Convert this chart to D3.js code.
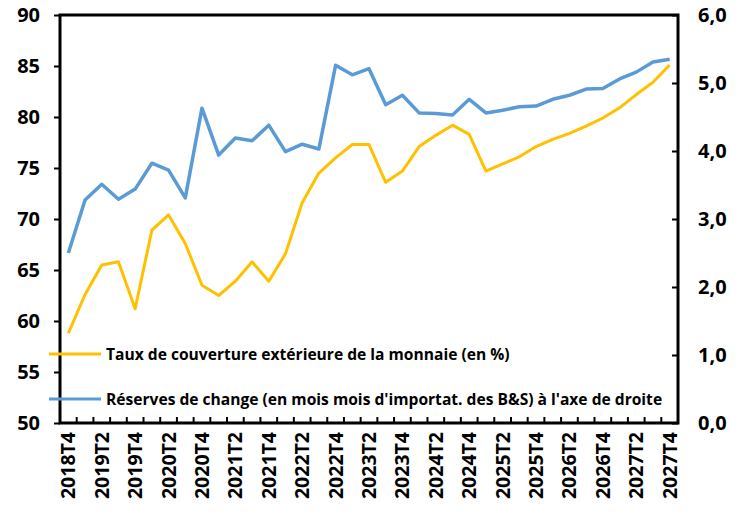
<!DOCTYPE html>
<html>
<head>
<meta charset="utf-8">
<script src="https://cdn.jsdelivr.net/npm/d3@7"></script>
<style>
  body { margin: 0; background: #fff; }
  svg text { font-family: "Open Sans", "Noto Sans", sans-serif; font-weight: bold; fill: #000; }
</style>
</head>
<body>
<script>
const quarters = [];
for (let y = 2018; y <= 2027; y++) {
  for (let q = 1; q <= 4; q++) {
    if (y === 2018 && q < 4) continue;
    quarters.push(y + "T" + q);
  }
}

// taux de couverture (axe gauche, %)
const couverture = [58.8, 62.6, 65.5, 65.8, 61.2, 68.9, 70.4, 67.6, 63.5, 62.5,
  63.9, 65.8, 63.9, 66.6, 71.6, 74.5, 76.0, 77.3, 77.3, 73.6,
  74.7, 77.1, 78.2, 79.2, 78.3, 74.7, 75.4, 76.1, 77.1, 77.8,
  78.4, 79.1, 79.9, 80.9, 82.2, 83.4, 85.1];

// réserves de change (axe droit, mois d'importations)
const reserves = [2.50, 3.28, 3.51, 3.29, 3.44, 3.82, 3.72, 3.31, 4.63, 3.94,
  4.19, 4.15, 4.38, 3.99, 4.10, 4.03, 5.26, 5.12, 5.21, 4.68,
  4.82, 4.56, 4.55, 4.53, 4.76, 4.56, 4.60, 4.65, 4.66, 4.76,
  4.82, 4.91, 4.92, 5.06, 5.16, 5.31, 5.35];

const leftTicks = [50, 55, 60, 65, 70, 75, 80, 85, 90];
const rightTicks = [0, 1, 2, 3, 4, 5, 6];

const W = 747, H = 516;
const m = { left: 60, top: 15, right: 678, bottom: 423 };

const svg = d3.select("body").append("svg")
  .attr("width", W).attr("height", H);

const x = d3.scaleBand().domain(quarters).range([m.left, m.right]);
const yL = d3.scaleLinear().domain([50, 90]).range([m.bottom, m.top]);
const yR = d3.scaleLinear().domain([0, 6]).range([m.bottom, m.top]);
const cx = (d) => x(d) + x.bandwidth() / 2;

// frame
svg.append("rect")
  .attr("x", m.left).attr("y", m.top)
  .attr("width", m.right - m.left).attr("height", m.bottom - m.top)
  .attr("fill", "none").attr("stroke", "#000").attr("stroke-width", 3);

// left axis
const axL = svg.append("g")
  .attr("transform", "translate(" + m.left + ",0)")
  .call(d3.axisLeft(yL).tickValues(leftTicks).tickSize(6).tickPadding(14));
axL.select(".domain").remove();
axL.selectAll("line").attr("stroke-width", 2);
axL.selectAll("text").style("font-size", "20px");

// right axis
const axR = svg.append("g")
  .attr("transform", "translate(" + m.right + ",0)")
  .call(d3.axisRight(yR).tickValues(rightTicks).tickSizeInner(-6).tickSizeOuter(0).tickPadding(20)
    .tickFormat((d) => d3.format(".1f")(d).replace(".", ",")));
axR.select(".domain").remove();
axR.selectAll("line").attr("stroke-width", 2);
axR.selectAll("text").style("font-size", "20px");

// bottom ticks between categories
svg.append("g").selectAll("line")
  .data(quarters.slice(1))
  .join("line")
  .attr("x1", (d) => x(d)).attr("x2", (d) => x(d))
  .attr("y1", m.bottom).attr("y2", m.bottom - 6)
  .attr("stroke", "#000").attr("stroke-width", 2);

// x labels
svg.append("g").selectAll("text")
  .data(quarters.filter((d, i) => i % 2 === 0))
  .join("text")
  .attr("transform", (d) => "translate(" + (cx(d) + 7) + "," + (m.bottom + 9) + ") rotate(-90)")
  .attr("text-anchor", "end")
  .style("font-size", "19.5px")
  .text((d) => d);

// lines
const lineL = d3.line().x((d, i) => cx(quarters[i])).y((d) => yL(d));
const lineR = d3.line().x((d, i) => cx(quarters[i])).y((d) => yR(d));

svg.append("path").datum(couverture)
  .attr("d", lineL).attr("fill", "none")
  .attr("stroke", "#FFC000").attr("stroke-width", 3).attr("stroke-linejoin", "round");

svg.append("path").datum(reserves)
  .attr("d", lineR).attr("fill", "none")
  .attr("stroke", "#5B9BD5").attr("stroke-width", 3.5).attr("stroke-linejoin", "round");

// legend
const legend = [
  { label: "Taux de couverture extérieure de la monnaie (en %)", color: "#FFC000", y: 354 },
  { label: "Réserves de change (en mois mois d'importat. des B&S) à l'axe de droite", color: "#5B9BD5", y: 399 }
];
const lg = svg.append("g").selectAll("g").data(legend).join("g");
lg.append("line")
  .attr("x1", 49).attr("x2", 101)
  .attr("y1", (d) => d.y).attr("y2", (d) => d.y)
  .attr("stroke", (d) => d.color).attr("stroke-width", 3);
lg.append("text")
  .attr("x", 106).attr("y", (d) => d.y + 5.5)
  .style("font-size", "15.6px")
  .text((d) => d.label);
</script>
</body>
</html>
